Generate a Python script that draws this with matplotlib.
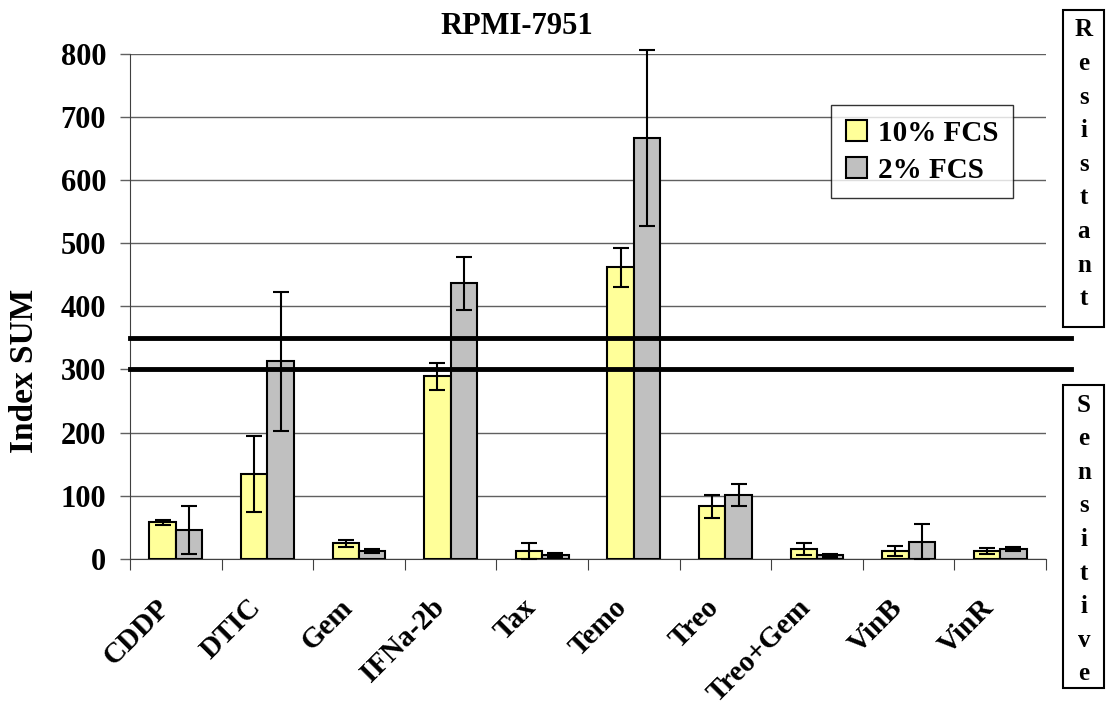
import numpy as np
import matplotlib
matplotlib.use("Agg")
import matplotlib.pyplot as plt

drugs = ["CDDP", "DTIC", "Gem", "IFNa-2b", "Tax", "Temo", "Treo", "Treo+Gem", "VinB", "VinR"]
fcs10 = [58, 134, 24, 289, 12, 462, 83, 15, 12, 12]
fcs10_err = [4, 60, 6, 21, 12, 31, 18, 10, 8, 5]
fcs2 = [45, 313, 12, 437, 6, 667, 101, 5, 27, 15]
fcs2_err = [38, 110, 3, 42, 3, 140, 18, 2, 28, 3]
limits = [300, 350]

plt.rcParams['font.family'] = ['Liberation Serif', 'DejaVu Serif']
plt.rcParams['font.weight'] = 'bold'

fig = plt.figure(figsize=(11.12, 7.06), dpi=100)
ax = fig.add_axes([130/1112, 1-558.6/706, 916/1112, (558.6-54.3)/706])

x = np.arange(len(drugs))
w = 0.288
ekw = dict(ecolor='black', elinewidth=1.5, capsize=5.5, capthick=1.5)
ax.bar(x - w/2, fcs10, w, color='#FFFF99', edgecolor='black', linewidth=1.5,
       yerr=fcs10_err, error_kw=ekw, label='10% FCS', zorder=3)
ax.bar(x + w/2, fcs2, w, color='#C0C0C0', edgecolor='black', linewidth=1.5,
       yerr=fcs2_err, error_kw=ekw, label='2% FCS', zorder=3)
# let the tall error bar poke out above 800
for art in ax.lines + ax.collections:
    art.set_clip_on(False)

ax.set_xlim(-0.5, len(drugs) - 0.5)
ax.set_ylim(0, 800)
ax.set_yticks(range(0, 801, 100))
ax.yaxis.grid(True, color='#606060', linewidth=1)
ax.set_axisbelow(True)
ax.set_xticks(np.arange(-0.5, len(drugs), 1))
ax.set_xticklabels([])
ax.tick_params(axis='x', length=8, direction='out', color='#404040')
ax.tick_params(axis='y', length=7.2, width=1, direction='out', labelsize=22, pad=10,
               color='#606060')
for lab in ax.get_yticklabels():
    lab.set_fontweight('bold')
for s in ['top', 'right']:
    ax.spines[s].set_visible(False)
for s in ['left', 'bottom']:
    ax.spines[s].set_color('#404040')

for i, d in enumerate(drugs):
    ax.text(i - 0.22, -56, d, rotation=45, ha='right', va='top', fontsize=21,
            fontweight='bold', rotation_mode='anchor')

for lim in limits:
    ax.plot([0, 1.027], [lim, lim], color='black', linewidth=3.5,
            transform=ax.get_yaxis_transform(), clip_on=False, zorder=4)

leg = ax.legend(loc='upper left', bbox_to_anchor=((831-130)/916, (558.6-105)/504.3),
                prop={'weight': 'bold', 'size': 21}, borderaxespad=0,
                frameon=True, fancybox=False, edgecolor='black', handlelength=0.75,
                handleheight=0.75, handletextpad=0.35, borderpad=0.5, labelspacing=0.35)
leg.get_frame().set_linewidth(1)

fig.text(517/1112, 1-27/706, "RPMI-7951", ha='center', va='center', fontsize=22, fontweight='bold')
fig.text(25/1112, 1-371/706, "Index SUM", ha='center', va='center', rotation=90,
         fontsize=24, fontweight='bold')

def side_box(word, y0, y1):
    r = plt.Rectangle((1063/1112, 1-y1/706), 41/1112, (y1-y0)/706, transform=fig.transFigure,
                      fill=False, edgecolor='black', linewidth=1.5)
    fig.patches.append(r)
    for k, ch in enumerate(word):
        fig.text(1084/1112, 1-(y0 + 20 + 33.6*k)/706, ch, ha='center', va='center',
                 fontsize=18, fontweight='bold')

side_box("Resistant", 10, 327)
side_box("Sensitive", 385, 688)

fig.savefig("out.png", dpi=100)
